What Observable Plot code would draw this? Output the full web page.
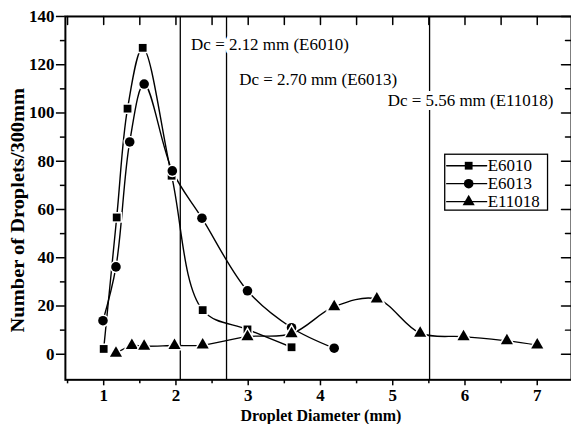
<!DOCTYPE html>
<html><head><meta charset="utf-8">
<script src="https://cdn.jsdelivr.net/npm/d3@7"></script>
<script src="https://cdn.jsdelivr.net/npm/@observablehq/plot@0.6"></script>
<style>
html,body{margin:0;padding:0;background:#fff;overflow:hidden}
#chart svg, #chart svg text{font-family:'Liberation Serif','Times New Roman',serif !important}
</style>
</head><body><div id="chart"></div>
<script>
// ---- data ----
const seriesNames = ["E6010", "E6013", "E11018"];
const e6010X = [1.0, 1.18, 1.33, 1.54, 1.94, 2.37, 2.99, 3.6];
const e6010Y = [2.2, 56.7, 101.8, 127, 74, 18.3, 10.3, 2.9];
const e6013X = [0.99, 1.17, 1.36, 1.56, 1.95, 2.36, 2.99, 3.6, 4.19];
const e6013Y = [13.9, 36.2, 88, 112, 76, 56.4, 26.3, 11, 2.5];
const e11018X = [1.17, 1.39, 1.56, 1.98, 2.37, 2.99, 3.6, 4.19, 4.78, 5.38, 5.98, 6.58, 7.0];
const e11018Y = [0.4, 3.6, 3.3, 3.6, 3.8, 7.3, 8.5, 19.7, 22.9, 8.7, 7.3, 5.6, 3.8];
const dcValues = [2.06, 2.70, 5.51];
const dcLabels = ["Dc = 2.12 mm (E6010)", "Dc = 2.70 mm (E6013)", "Dc = 5.56 mm (E11018)"];
const xTicks = [1, 2, 3, 4, 5, 6, 7];
const xMinorTicks = [0.5, 1.5, 2.5, 3.5, 4.5, 5.5, 6.5];
const yTicks = [0, 20, 40, 60, 80, 100, 120, 140];
const yMinorTicks = [10, 30, 50, 70, 90, 110, 130];
const xTitle = "Droplet Diameter (mm)";
const yTitle = "Number of Droplets/300mm";

const xDomain = [0.47, 7.474];
const yDomain = [-10.6, 140];

const rows = (name, xs, ys) => xs.map((x, i) => ({series: name, x, y: ys[i]}));
const s6010 = rows(seriesNames[0], e6010X, e6010Y);
const s6013 = rows(seriesNames[1], e6013X, e6013Y);
const s11018 = rows(seriesNames[2], e11018X, e11018Y);
const series = [
  {name: seriesNames[0], data: s6010, symbol: "square", r: 4.4},
  {name: seriesNames[1], data: s6013, symbol: "circle", r: 4.8},
  {name: seriesNames[2], data: s11018, symbol: "triangle", r: 4.5}
];

const tickShape = {draw(context, l) { context.moveTo(0, 0); context.lineTo(0, -l); }};
const font = "'Liberation Serif', 'Times New Roman', serif";
const fmt = d3.format("d");

// legend layout (pixels relative to the frame's top-left corner)
const legendRowDy = [149.5, 167.5, 185.5];

const annot = {textAnchor: "start", lineAnchor: "middle", fontSize: 17, fontFamily: font, fill: "black", stroke: "white", strokeWidth: 8, paintOrder: "stroke"};

const marks = [
  Plot.ruleX(dcValues, {stroke: "black", strokeWidth: 1.3}),
  ...series.map(s => Plot.line(s.data, {x: "x", y: "y", curve: "catmull-rom", stroke: "black", strokeWidth: 1.4})),
  ...series.map(s => Plot.dot(s.data, {x: "x", y: "y", symbol: s.symbol, r: s.r, fill: "black", stroke: "white", strokeWidth: 3, paintOrder: "stroke"})),
  // annotations with white knock-out
  Plot.text([dcLabels[0]], {x: 2.21, y: 128.5, text: d => d, ...annot}),
  Plot.text([dcLabels[1]], {x: 2.875, y: 114, text: d => d, ...annot}),
  Plot.text([dcLabels[2]], {x: 4.93, y: 105, text: d => d, ...annot}),
  // frame
  Plot.frame({stroke: "black", strokeWidth: 2}),
  // outer ticks + labels
  Plot.axisY({ticks: yTicks, tickSize: 9, tickPadding: 2, tickFormat: fmt, fontWeight: "bold", fontSize: 17, fontFamily: font, label: null, strokeWidth: 1.5}),
  Plot.axisY({ticks: yMinorTicks, tickSize: 5, tickFormat: () => "", label: null, strokeWidth: 1.5}),
  Plot.axisX({ticks: xTicks, tickSize: 6, tickPadding: 3, tickFormat: fmt, fontWeight: "bold", fontSize: 17, fontFamily: font, label: null, strokeWidth: 1.5}),
  Plot.axisX({ticks: xMinorTicks, tickSize: 4, tickFormat: () => "", label: null, strokeWidth: 1.5}),
  // inner ticks on top and right
  Plot.vector([...xTicks, ...xMinorTicks], {x: d => d, y: yDomain[1], length: 8, rotate: 180, anchor: "start", shape: tickShape, stroke: "black", strokeWidth: 1.5}),
  Plot.vector(yTicks, {x: xDomain[1], y: d => d, length: 10, rotate: 270, anchor: "start", shape: tickShape, stroke: "black", strokeWidth: 1.5}),
  Plot.vector(yMinorTicks, {x: xDomain[1], y: d => d, length: 6, rotate: 270, anchor: "start", shape: tickShape, stroke: "black", strokeWidth: 1.5}),
  // axis titles
  Plot.text([xTitle], {frameAnchor: "top-left", dx: 256, dy: 400.5, text: d => d, textAnchor: "middle", lineAnchor: "middle", fontSize: 16, fontWeight: "bold", fontFamily: font}),
  Plot.text([yTitle], {frameAnchor: "top-left", dx: -47, dy: 194, rotate: -90, text: d => d, textAnchor: "middle", lineAnchor: "middle", fontSize: 18, fontWeight: "bold", fontFamily: font}),
  // legend
  Plot.frame({insetLeft: 380, insetRight: 24, insetTop: 138, insetBottom: 170, stroke: "black", fill: "white", strokeWidth: 1.3}),
  ...series.flatMap((s, i) => [
    Plot.vector([s.name], {frameAnchor: "top-left", dx: 382, dy: legendRowDy[i], length: 40, rotate: 90, anchor: "start", shape: tickShape, stroke: "black", strokeWidth: 1.4}),
    Plot.dot([s.name], {frameAnchor: "top-left", dx: 404, dy: legendRowDy[i], symbol: s.symbol, r: s.r, fill: "black"}),
    Plot.text([s.name], {frameAnchor: "top-left", dx: 423, dy: legendRowDy[i], text: d => d, textAnchor: "start", lineAnchor: "middle", fontSize: 17, fontFamily: font})
  ])
];

const chart = Plot.plot({
  width: 572,
  height: 425,
  marginLeft: 65,
  marginRight: 0,
  marginTop: 16,
  marginBottom: 45,
  x: {domain: xDomain},
  y: {domain: yDomain},
  style: {fontFamily: font, fontSize: "17px", background: "white", color: "black"},
  marks
});
document.getElementById("chart").appendChild(chart);
// stretch the y title to the reference's length
d3.select(chart).selectAll("text").filter(function() { return this.textContent === yTitle; })
  .attr("textLength", 245).attr("lengthAdjust", "spacingAndGlyphs");
</script>
</body></html>
